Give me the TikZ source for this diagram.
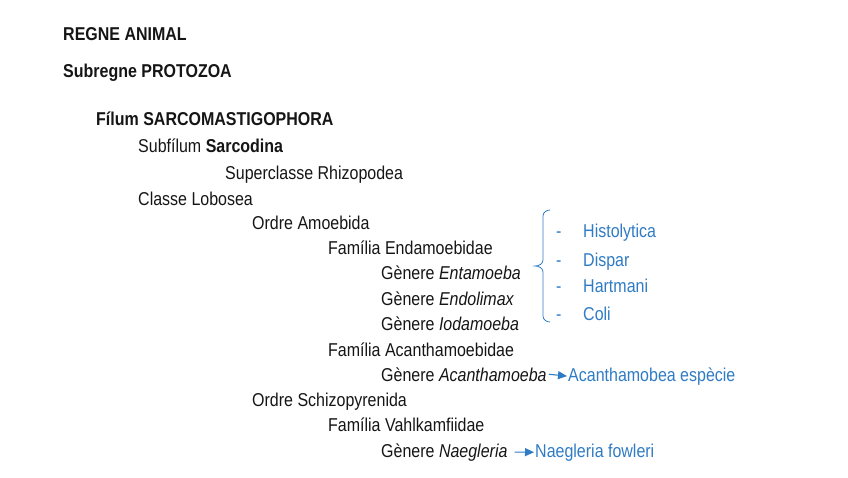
\documentclass[tikz,border=0pt]{standalone}
\usepackage{fontspec}
\setmainfont{Liberation Sans}[FakeStretch=0.86]
\usetikzlibrary{arrows.meta}
\definecolor{txtgray}{HTML}{151515}
\definecolor{linkblue}{HTML}{2F7BC4}
\begin{document}
\begin{tikzpicture}[x=1pt, y=-1pt,
    tx/.style={anchor=base west, inner sep=0pt, text=txtgray,
        font=\fontsize{18.6}{20}\selectfont},
    hd/.style={tx, font=\fontsize{18.6}{20}\selectfont\bfseries},
    sp/.style={tx, text=linkblue},
    arr/.style={-{Triangle[length=9pt, width=8pt]}, linkblue, line width=1.1pt}]
    % marc
    \useasboundingbox (0, 0) rectangle (848, 477);
    % capçaleres
    \node[hd] (regne) at (63, 40) {REGNE ANIMAL};
    \node[hd] (subregne) at (63, 77) {Subregne PROTOZOA};
    \node[hd] (filum) at (96, 125) {Fílum SARCOMASTIGOPHORA};
    % jerarquia
    \node[tx] (subfilum) at (138, 152) {Subfílum \textbf{Sarcodina}};
    \node[tx] (superclasse) at (225, 179) {Superclasse Rhizopodea};
    \node[tx] (classe) at (138, 205) {Classe Lobosea};
    \node[tx] (amoebida) at (252, 229) {Ordre Amoebida};
    \node[tx] (endamoeb) at (328, 254) {Família Endamoebidae};
    \node[tx] (entamoeba) at (381, 279) {Gènere \textit{Entamoeba}};
    \node[tx] (endolimax) at (381, 305) {Gènere \textit{Endolimax}};
    \node[tx] (iodamoeba) at (381, 330) {Gènere \textit{Iodamoeba}};
    \node[tx] (acanthfam) at (328, 356) {Família Acanthamoebidae};
    \node[tx] (acanth) at (381, 381) {Gènere \textit{Acanthamoeba}};
    \node[tx] (schizo) at (252, 406) {Ordre Schizopyrenida};
    \node[tx] (vahlk) at (328, 431) {Família Vahlkamfiidae};
    \node[tx] (naegleria) at (381, 457) {Gènere \textit{Naegleria}};
    % espècies
    \node[sp] (acsp) at (568, 381) {Acanthamobea espècie};
    \node[sp] (fowleri) at (535, 457) {Naegleria fowleri};
    \draw[arr] ([xshift=2pt]acanth.east) -- ([xshift=-1pt]acsp.west);
    \draw[arr] ([xshift=7pt]naegleria.east) -- ([xshift=-1pt]fowleri.west);
    % claudàtor
    \coordinate (clt) at (550, 210);
    \coordinate (clm) at (535, 266);
    \coordinate (clb) at (550, 322);
    \draw[linkblue, line width=0.8pt] (clt) to[out=180, in=90] (543, 216) -- (543, 260)
        to[out=-90, in=0] (clm) to[out=0, in=90] (543, 272) -- (543, 316)
        to[out=-90, in=180] (clb);
    \foreach \nom/\y in {Histolytica/237, Dispar/266, Hartmani/292, Coli/320} {
        \node[sp] (g-\nom) at (583, \y) {\nom};
        \node[sp] (d-\nom) at (556, \y) {-};
    }
\end{tikzpicture}
\end{document}
